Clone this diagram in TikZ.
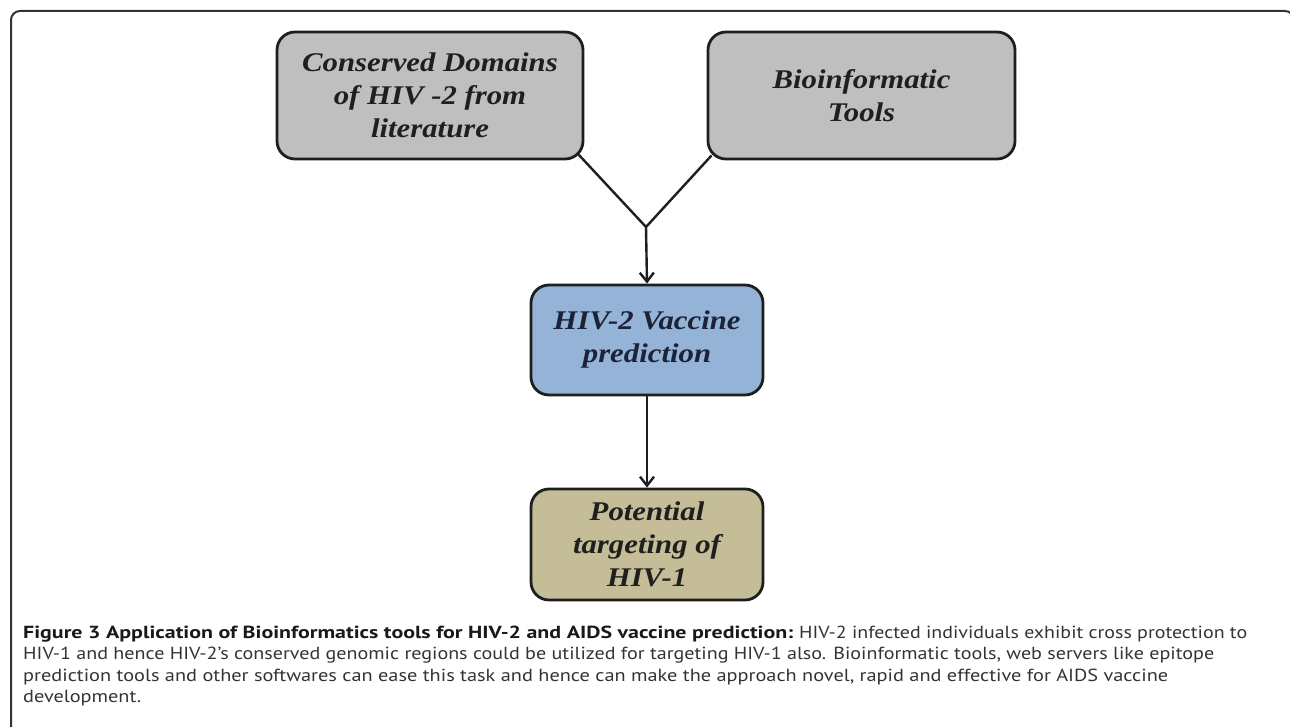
\documentclass[tikz,border=0pt]{standalone}
\usepackage{fontspec}
\usepackage{graphicx}
\setmainfont{Liberation Serif}
\newfontfamily\boxfont[FakeStretch=1.14]{Liberation Serif}
\newfontfamily\capfont{PT Sans}
\usetikzlibrary{arrows.meta}
\definecolor{boxgray}{HTML}{BFBFBF}
\definecolor{boxblue}{HTML}{95B3D7}
\definecolor{boxtan}{HTML}{C4BD97}
\definecolor{edge}{HTML}{1E1E1E}
\definecolor{framecol}{HTML}{333333}
\definecolor{captext}{HTML}{333333}
\definecolor{navytext}{HTML}{1C2238}
\newlength\fitw
\newcommand\fitto[2]{\settowidth\fitw{#2}\pgfmathsetmacro\fitr{#1/\fitw}\xdef\lastfitr{\fitr}\scalebox{\fitr}[1]{#2}}
\tikzset{
  flowbox/.style={draw=edge, line width=2.8pt, rounded corners=18pt, align=center,
    inner sep=0pt, font=\boxfont\fontsize{27}{33}\selectfont\bfseries\itshape, text=black!88},
  conn/.style={draw=edge, line width=2.4pt},
  arr/.style={-{Straight Barb[length=9pt,width=14pt,line width=2.4pt]}},
  capline/.style={anchor=base west, inner sep=0pt, text=captext,
    font=\capfont\fontsize{17.5}{21.5}\selectfont}
}
\begin{document}
\begin{tikzpicture}[x=1pt,y=-1pt]
\useasboundingbox (0,0) rectangle (1290,727);
% outer frame (open at bottom, right side beyond the edge)
\draw[framecol, line width=2pt, rounded corners=9pt] (11,740) -- (11,11) -- (1294,11) -- (1294,740);
% boxes
\node[flowbox, fill=boxgray, minimum width=306pt, minimum height=127pt] (cons) at (430,95.5)
  {Conserved Domains\\ of HIV -2 from\\ literature};
\node[flowbox, fill=boxgray, minimum width=307pt, minimum height=127pt] (bio) at (861.5,95.5)
  {Bioinformatic\\ Tools};
\node[flowbox, fill=boxblue, minimum width=232pt, minimum height=110pt, text=navytext] (vac) at (647,340)
  {HIV-2 Vaccine\\ prediction};
\node[flowbox, fill=boxtan, minimum width=232pt, minimum height=111pt] (pot) at (647,544.5)
  {Potential\\ targeting of\\ HIV-1};
% connectors
\coordinate (j) at (646,227);
\draw[conn, line join=miter] ([shift={(-6,-6)}]cons.south east) -- (j) -- ([shift={(5,-5)}]bio.south west);
\draw[conn, arr] (j) -- (vac.north);
\draw[conn, arr] (vac.south) -- (pot.north);
% caption
\node[capline, text=black!90] (c1a) at (23,638) {\fitto{770}{\textbf{Figure 3 Application of Bioinformatics tools for HIV-2 and AIDS vaccine prediction:}}};
\node[capline] (c1b) at (799,638) {\fitto{448}{HIV-2 infected individuals exhibit cross protection to}};
\node[capline] (c2) at (23,659.5) {\fitto{1191}{HIV-1 and hence HIV-2’s conserved genomic regions could be utilized for targeting HIV-1 also. Bioinformatic tools, web servers like epitope}};
\node[capline] (c3) at (23,681) {\fitto{1145}{prediction tools and other softwares can ease this task and hence can make the approach novel, rapid and effective for AIDS vaccine}};
\node[capline] (c4) at (23,702.5) {\scalebox{\lastfitr}[1]{development.}};
\end{tikzpicture}
\end{document}
